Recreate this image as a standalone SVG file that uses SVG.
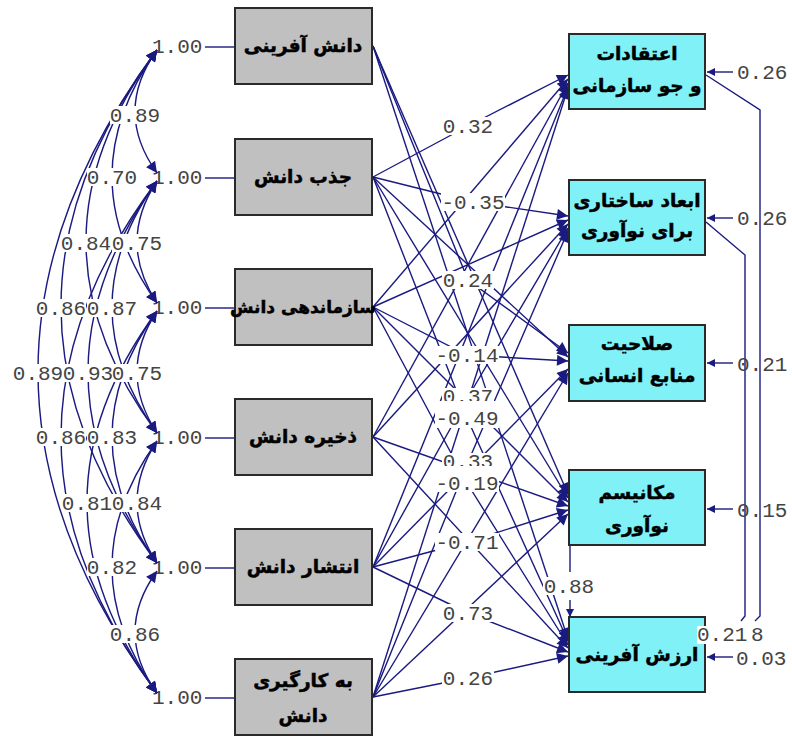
<svg xmlns="http://www.w3.org/2000/svg" width="792" height="736" viewBox="0 0 792 736">
<defs>
<marker id="arr" viewBox="0 0 10 10" refX="10" refY="5" markerWidth="15" markerHeight="11" markerUnits="userSpaceOnUse" orient="auto-start-reverse"><path d="M0,0 L10,5 L0,10 z" fill="#1a1a80"/></marker>
<marker id="arrS" viewBox="0 0 10 10" refX="10" refY="5" markerWidth="10" markerHeight="8" markerUnits="userSpaceOnUse" orient="auto-start-reverse"><path d="M0,0 L10,5 L0,10 z" fill="#1a1a80"/></marker>
</defs>
<style>
.bg{fill:#ffffff}
.src rect{fill:#c0c0c0;stroke:#2a2a2a;stroke-width:2}
.tgt rect{fill:#80f2f7;stroke:#2a2a2a;stroke-width:2}
.fa{font-family:"DejaVu Sans","Noto Sans",sans-serif;font-weight:bold;font-size:18.5px;fill:#000;stroke:#000;stroke-width:0.5;text-anchor:middle}
.num{font-family:"Liberation Mono","DejaVu Sans Mono",monospace;font-size:21px;fill:#444}
.mid{text-anchor:middle}
.ln{fill:none;stroke:#1a1a80;stroke-width:1.4}
.pa{fill:none;stroke:#1a1a80;stroke-width:1.4;marker-end:url(#arr)}
.cv{fill:none;stroke:#1a1a80;stroke-width:1.4;marker-start:url(#arr);marker-end:url(#arr)}
.lb{fill:#ffffff}
</style>
<rect class="bg" x="0" y="0" width="792" height="736"/>

<!-- variance labels and links -->
<g id="variances">
<line class="ln" x1="205" y1="47" x2="235" y2="47"/>
<line class="ln" x1="205" y1="178" x2="235" y2="178"/>
<line class="ln" x1="205" y1="308" x2="235" y2="308"/>
<line class="ln" x1="205" y1="438" x2="235" y2="438"/>
<line class="ln" x1="205" y1="568" x2="235" y2="568"/>
<line class="ln" x1="205" y1="698" x2="235" y2="698"/>
<text class="num" x="152" y="53">1.00</text>
<text class="num" x="152" y="184">1.00</text>
<text class="num" x="152" y="314">1.00</text>
<text class="num" x="152" y="444">1.00</text>
<text class="num" x="152" y="574">1.00</text>
<text class="num" x="152" y="704">1.00</text>
</g>

<!-- covariance arcs -->
<g id="covariances">
<path class="cv" d="M157,50 Q113,111.5 157,173"/>
<path class="cv" d="M157,50 Q67,176.5 157,303"/>
<path class="cv" d="M157,50 Q15,241.5 157,433"/>
<path class="cv" d="M157,50 Q-35,306.5 157,563"/>
<path class="cv" d="M157,50 Q-81,371.5 157,693"/>
<path class="cv" d="M157,181 Q117,242 157,303"/>
<path class="cv" d="M157,181 Q67,307 157,433"/>
<path class="cv" d="M157,181 Q19,372 157,563"/>
<path class="cv" d="M157,181 Q-35,437 157,693"/>
<path class="cv" d="M157,311 Q117,372 157,433"/>
<path class="cv" d="M157,311 Q67,437 157,563"/>
<path class="cv" d="M157,311 Q17,502 157,693"/>
<path class="cv" d="M157,441 Q117,502 157,563"/>
<path class="cv" d="M157,441 Q67,567 157,693"/>
<path class="cv" d="M157,571 Q113,632 157,693"/>
</g>
<g id="covariance-labels">
<rect class="lb" x="110" y="106" width="50" height="18"/><text class="num mid" x="135" y="122">0.89</text>
<rect class="lb" x="87" y="168" width="50" height="18"/><text class="num mid" x="112" y="184">0.70</text>
<rect class="lb" x="61" y="234" width="50" height="18"/><text class="num mid" x="86" y="250">0.84</text>
<rect class="lb" x="36" y="299" width="50" height="18"/><text class="num mid" x="61" y="315">0.86</text>
<rect class="lb" x="13" y="364" width="50" height="18"/><text class="num mid" x="38" y="380">0.89</text>
<rect class="lb" x="112" y="234" width="50" height="18"/><text class="num mid" x="137" y="250">0.75</text>
<rect class="lb" x="87" y="299" width="50" height="18"/><text class="num mid" x="112" y="315">0.87</text>
<rect class="lb" x="63" y="364" width="50" height="18"/><text class="num mid" x="88" y="380">0.93</text>
<rect class="lb" x="36" y="428" width="50" height="18"/><text class="num mid" x="61" y="444">0.86</text>
<rect class="lb" x="112" y="364" width="50" height="18"/><text class="num mid" x="137" y="380">0.75</text>
<rect class="lb" x="87" y="428" width="50" height="18"/><text class="num mid" x="112" y="444">0.83</text>
<rect class="lb" x="62" y="494" width="50" height="18"/><text class="num mid" x="87" y="510">0.81</text>
<rect class="lb" x="112" y="494" width="50" height="18"/><text class="num mid" x="137" y="510">0.84</text>
<rect class="lb" x="87" y="558" width="50" height="18"/><text class="num mid" x="112" y="574">0.82</text>
<rect class="lb" x="110" y="625" width="50" height="18"/><text class="num mid" x="135" y="641">0.86</text>
</g>

<!-- structural paths -->
<g id="connectors">
<path class="pa" d="M373,177 L468,126 L568,75"/>
<path class="pa" d="M373,177 L473,202 L568,216"/>
<path class="pa" d="M373,46 L468,280 L568,353"/>
<path class="pa" d="M373,307 L467,355 L568,361"/>
<path class="pa" d="M373,567 L468,397 L568,228"/>
<path class="pa" d="M373,177 L467,418 L568,641"/>
<path class="pa" d="M373,697 L468,462 L568,231"/>
<path class="pa" d="M373,307 L467,483 L568,645"/>
<path class="pa" d="M373,567 L467,542 L568,510"/>
<path class="pa" d="M373,567 L468,613 L568,652"/>
<path class="pa" d="M373,697 L468,678 L568,656"/>
<path class="pa" d="M373,46 L568,494"/>
<path class="pa" d="M373,46 L568,639"/>
<path class="pa" d="M373,177 L568,357"/>
<path class="pa" d="M373,177 L568,498"/>
<path class="pa" d="M373,307 L568,79"/>
<path class="pa" d="M373,307 L568,220"/>
<path class="pa" d="M373,307 L568,502"/>
<path class="pa" d="M373,437 L568,83"/>
<path class="pa" d="M373,437 L568,224"/>
<path class="pa" d="M373,437 L568,506"/>
<path class="pa" d="M373,437 L568,648"/>
<path class="pa" d="M373,567 L568,87"/>
<path class="pa" d="M373,567 L568,369"/>
<path class="pa" d="M373,697 L568,88"/>
<path class="pa" d="M373,697 L568,373"/>
<path class="pa" d="M373,697 L568,514"/>
<line class="ln" x1="570" y1="546" x2="570" y2="572"/>
<path class="pa" d="M570,600 L570,617" style="marker-end:url(#arrS)"/>
<path class="ln" d="M706,75 L760,110 L760,616 L755,621"/>
<path class="ln" d="M706,222 L745,255 L745,616 L741,621"/>
</g>
<g id="path-labels">
<rect class="lb" x="442" y="117" width="52" height="18"/><text class="num mid" x="468" y="133">0.32</text>
<rect class="lb" x="441" y="193" width="64" height="18"/><text class="num mid" x="473" y="209">-0.35</text>
<rect class="lb" x="442" y="271" width="52" height="18"/><text class="num mid" x="468" y="287">0.24</text>
<rect class="lb" x="435" y="346" width="64" height="18"/><text class="num mid" x="467" y="362">-0.14</text>
<rect class="lb" x="442" y="388" width="52" height="18"/><text class="num mid" x="468" y="403">0.37</text>
<rect class="lb" x="435" y="401" width="64" height="27"/><text class="num mid" x="467" y="425">-0.49</text>
<rect class="lb" x="442" y="453" width="52" height="18"/><text class="num mid" x="468" y="468">0.33</text>
<rect class="lb" x="435" y="466" width="64" height="26"/><text class="num mid" x="467" y="490">-0.19</text>
<rect class="lb" x="435" y="533" width="64" height="18"/><text class="num mid" x="467" y="549">-0.71</text>
<rect class="lb" x="442" y="604" width="52" height="18"/><text class="num mid" x="468" y="620">0.73</text>
<rect class="lb" x="442" y="669" width="52" height="18"/><text class="num mid" x="468" y="685">0.26</text>
<rect class="lb" x="543" y="577" width="52" height="18"/><text class="num mid" x="569" y="593">0.88</text>
</g>

<!-- source nodes -->
<g id="n-knowledge-creation" class="src"><rect x="235" y="8" width="137" height="76"/><text class="fa" x="303" y="52">دانش آفرینی</text></g>
<g id="n-knowledge-acquisition" class="src"><rect x="235" y="139" width="137" height="76"/><text class="fa" x="303" y="183">جذب دانش</text></g>
<g id="n-knowledge-organizing" class="src"><rect x="235" y="269" width="137" height="76"/><text class="fa" x="303" y="313" style="font-size:17px">سازماندهی دانش</text></g>
<g id="n-knowledge-storage" class="src"><rect x="235" y="399" width="137" height="76"/><text class="fa" x="303" y="443">ذخیره دانش</text></g>
<g id="n-knowledge-sharing" class="src"><rect x="235" y="529" width="137" height="76"/><text class="fa" x="303" y="573">انتشار دانش</text></g>
<g id="n-knowledge-application" class="src"><rect x="235" y="659" width="137" height="76"/><text class="fa" x="303" y="687">به کارگیری</text><text class="fa" x="303" y="722">دانش</text></g>

<!-- target nodes -->
<g id="n-beliefs" class="tgt"><rect x="569" y="34" width="136" height="75"/><text class="fa" x="637" y="60">اعتقادات</text><text class="fa" x="637" y="92">و جو سازمانی</text></g>
<g id="n-structure" class="tgt"><rect x="569" y="180" width="136" height="75"/><text class="fa" x="637" y="207">ابعاد ساختاری</text><text class="fa" x="637" y="237">برای نوآوری</text></g>
<g id="n-hr" class="tgt"><rect x="569" y="325" width="136" height="76"/><text class="fa" x="637" y="350">صلاحیت</text><text class="fa" x="637" y="382">منابع انسانی</text></g>
<g id="n-mechanism" class="tgt"><rect x="569" y="470" width="136" height="75"/><text class="fa" x="637" y="499">مکانیسم</text><text class="fa" x="637" y="532">نوآوری</text></g>
<g id="n-value" class="tgt"><rect x="569" y="617" width="136" height="75"/><text class="fa" x="637" y="661">ارزش آفرینی</text></g>

<!-- residuals -->
<g id="residuals">
<path class="pa" d="M733,72 L707,72" style="marker-end:url(#arrS)"/>
<path class="pa" d="M733,218 L707,218" style="marker-end:url(#arrS)"/>
<path class="pa" d="M733,363 L707,363" style="marker-end:url(#arrS)"/>
<path class="pa" d="M733,509 L707,509" style="marker-end:url(#arrS)"/>
<path class="pa" d="M733,657 L707,657" style="marker-end:url(#arrS)"/>
<text class="num" x="737" y="79">0.26</text>
<text class="num" x="737" y="225">0.26</text>
<text class="num" x="737" y="371">0.21</text>
<text class="num" x="737" y="517">0.15</text>
<text class="num" x="736" y="665">0.03</text>
<rect class="lb" x="697" y="626" width="50" height="18"/><text class="num" x="697" y="641">0.21</text>
<text class="num" x="751" y="641">8</text>
</g>
</svg>
